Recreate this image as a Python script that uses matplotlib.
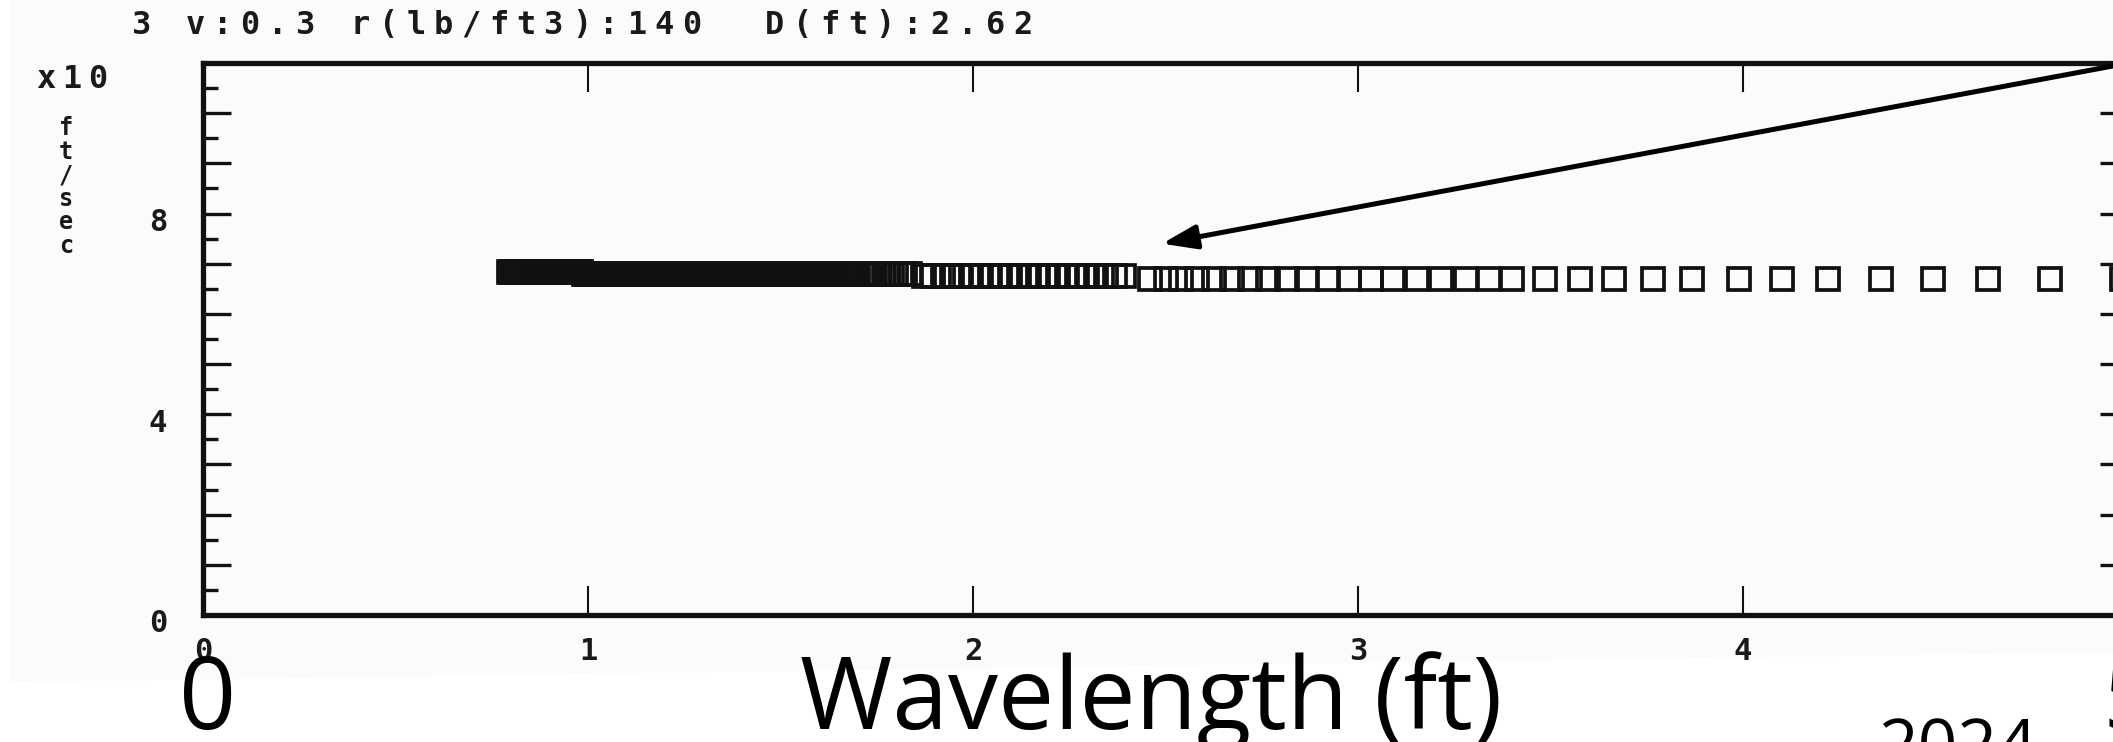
import matplotlib
matplotlib.use("Agg")
import matplotlib.pyplot as plt
from matplotlib.patches import Polygon
from matplotlib.ticker import FixedLocator
from matplotlib import transforms

# ---- data: phase velocity (x10^3 ft/sec) against wavelength (ft) ----
lam_band_a = [0.795, 0.802, 0.809, 0.816, 0.823, 0.830, 0.837, 0.844, 0.851,
              0.858, 0.865, 0.872, 0.879, 0.886, 0.893, 0.900, 0.907, 0.914,
              0.921, 0.928, 0.935, 0.942, 0.949, 0.956, 0.963, 0.970, 0.977,
              0.982]
lam_band_b = [0.990, 0.998, 1.006, 1.014, 1.022, 1.030, 1.038, 1.046, 1.054,
              1.062, 1.070, 1.078, 1.086, 1.094, 1.102, 1.110, 1.118, 1.126,
              1.134, 1.142, 1.150, 1.158, 1.166, 1.174, 1.182, 1.190, 1.198,
              1.206, 1.214, 1.222, 1.230, 1.238, 1.246, 1.254, 1.262, 1.270,
              1.278, 1.286, 1.294, 1.302, 1.310, 1.318, 1.326, 1.334, 1.342,
              1.350, 1.358, 1.366, 1.374, 1.382, 1.390, 1.398, 1.406, 1.414,
              1.422, 1.430, 1.438, 1.446, 1.454, 1.462, 1.470, 1.478, 1.486,
              1.494, 1.502, 1.510, 1.518, 1.526, 1.534, 1.542, 1.550, 1.558,
              1.566, 1.574, 1.582, 1.590, 1.598, 1.606, 1.614, 1.622, 1.630,
              1.638, 1.646, 1.654, 1.662, 1.670, 1.678, 1.686, 1.694, 1.702,
              1.713, 1.724, 1.735, 1.746, 1.757, 1.768, 1.779, 1.790, 1.801,
              1.812, 1.824, 1.836]
lam_band_c = [1.873, 1.897, 1.921, 1.945, 1.970, 1.995, 2.020, 2.045, 2.070,
              2.095, 2.120, 2.145, 2.170, 2.195, 2.220, 2.245, 2.270, 2.295,
              2.320, 2.345, 2.370, 2.392]
lam_band_d = [2.460, 2.501, 2.540, 2.582, 2.626, 2.673, 2.719, 2.766, 2.816,
              2.868, 2.922, 2.977, 3.034, 3.091, 3.153, 3.216, 3.281, 3.340,
              3.400, 3.486, 3.577, 3.664, 3.765, 3.868, 3.989, 4.102, 4.220,
              4.358, 4.493, 4.636, 4.797, 4.984]
band_wavelengths = [lam_band_a, lam_band_b, lam_band_c, lam_band_d]
band_velocity = [6.84, 6.80, 6.75, 6.70]

x_tick_values = [1, 2, 3, 4]
x_tick_labels = ["0", "1", "2", "3", "4"]
x_label_positions = [0, 1, 2, 3, 4]
y_major_ticks = [1, 2, 3, 4, 5, 6, 7, 8, 9, 10]
y_minor_ticks = [0.5, 1.5, 2.5, 3.5, 4.5, 5.5, 6.5, 7.5, 8.5, 9.5, 10.5]
y_tick_labels = ["0", "4", "8"]
y_label_positions = [0, 4, 8]

header = "v:0.3 r(lb/ft3):140  D(ft):2.62"
arrow_tip = (2.491, 7.40)
arrow_tail = (5.03, 11.04)

# ---- figure ----
W, H = 2113, 742
fig = plt.figure(figsize=(W / 100, H / 100), dpi=100)
fig.patch.set_facecolor("white")

def fx(px):
    return px / W

def fy(py):
    return 1 - py / H

# screen capture backdrop
screen = Polygon([(fx(10), fy(0)), (fx(W), fy(0)), (fx(W), fy(652)),
                  (fx(10), fy(682))], closed=True, transform=fig.transFigure,
                 facecolor="#fbfbfb", edgecolor="none", zorder=0)
fig.add_artist(screen)

ax = fig.add_axes([fx(203), fy(615), (2128 - 203) / W, 552 / H])
ax.set_facecolor("none")
ax.set_xlim(0, 5)
ax.set_ylim(0, 11)

for lam, vel in zip(band_wavelengths, band_velocity):
    ax.plot(lam, [vel] * len(lam), ls="none", marker="s", ms=15.5,
            mfc="none", mec="#111111", mew=2.7, clip_on=False)

for side in ax.spines.values():
    side.set_linewidth(3.8)
    side.set_color("#111111")

ax.xaxis.set_major_locator(FixedLocator(x_tick_values))
ax.yaxis.set_major_locator(FixedLocator(y_major_ticks))
ax.yaxis.set_minor_locator(FixedLocator(y_minor_ticks))
ax.xaxis.set_minor_locator(FixedLocator([]))
ax.tick_params(axis="x", which="major", direction="in", length=21, width=1.5,
               top=True, bottom=True, labelbottom=False, color="#111111")
ax.tick_params(axis="y", which="major", direction="in", length=20, width=2.4,
               left=True, right=True, labelleft=False, color="#111111")
ax.tick_params(axis="y", which="minor", direction="in", length=11, width=2.4,
               left=True, right=True, color="#111111")

dos = dict(family="DejaVu Sans Mono", weight="bold", color="#1a1a1a")

# tick labels in the plotter's screen font
xlab_tr = transforms.blended_transform_factory(ax.transData, fig.transFigure)
for pos, txt in zip(x_label_positions, x_tick_labels):
    ax.text(pos, fy(651), txt, transform=xlab_tr, ha="center", va="center",
            fontsize=22, **dos)
ylab_tr = transforms.offset_copy(
    transforms.blended_transform_factory(fig.transFigure, ax.transData),
    fig=fig, x=0, y=-9, units="dots")
for pos, txt in zip(y_label_positions, y_tick_labels):
    ax.text(fx(158), pos, txt, transform=ylab_tr, ha="center", va="center",
            fontsize=22, **dos)

# header line, exponent and units, laid out on the character grid
pitch = 27.6
fig.text(fx(142), fy(25), "3", ha="center", va="center", fontsize=23, **dos)
for i, ch in enumerate(header):
    if ch != " ":
        fig.text(fx(195 + i * pitch), fy(25), ch, ha="center", va="center",
                 fontsize=23, **dos)
for i, ch in enumerate("x10"):
    fig.text(fx(46 + i * 26), fy(80), ch, ha="center", va="center",
             fontsize=23, **dos)
for i, ch in enumerate("ft/sec"):
    fig.text(fx(66), fy(128 + i * 23.6), ch, ha="center", va="center",
             fontsize=17, **dos)

# pointer arrow
ax.annotate("", xy=arrow_tip, xytext=arrow_tail, annotation_clip=False,
            arrowprops=dict(arrowstyle="-|>,head_length=0.8,head_width=0.28",
                            mutation_scale=26, lw=3.6, color="black",
                            shrinkA=0, shrinkB=0))

# slide captions
cap = dict(family="Open Sans", color="black")
fig.text(fx(208), fy(729), "0", ha="center", va="baseline", fontsize=72, **cap)
fig.text(fx(1151), fy(729), "Wavelength (ft)", ha="center", va="baseline",
         fontsize=72, **cap)
fig.text(fx(2131), fy(729), "5", ha="center", va="baseline", fontsize=72, **cap)
fig.text(fx(1958), fy(716), "2024", ha="center", va="top", fontsize=50, **cap)

fig.savefig("out.png", dpi=100, facecolor="white")
